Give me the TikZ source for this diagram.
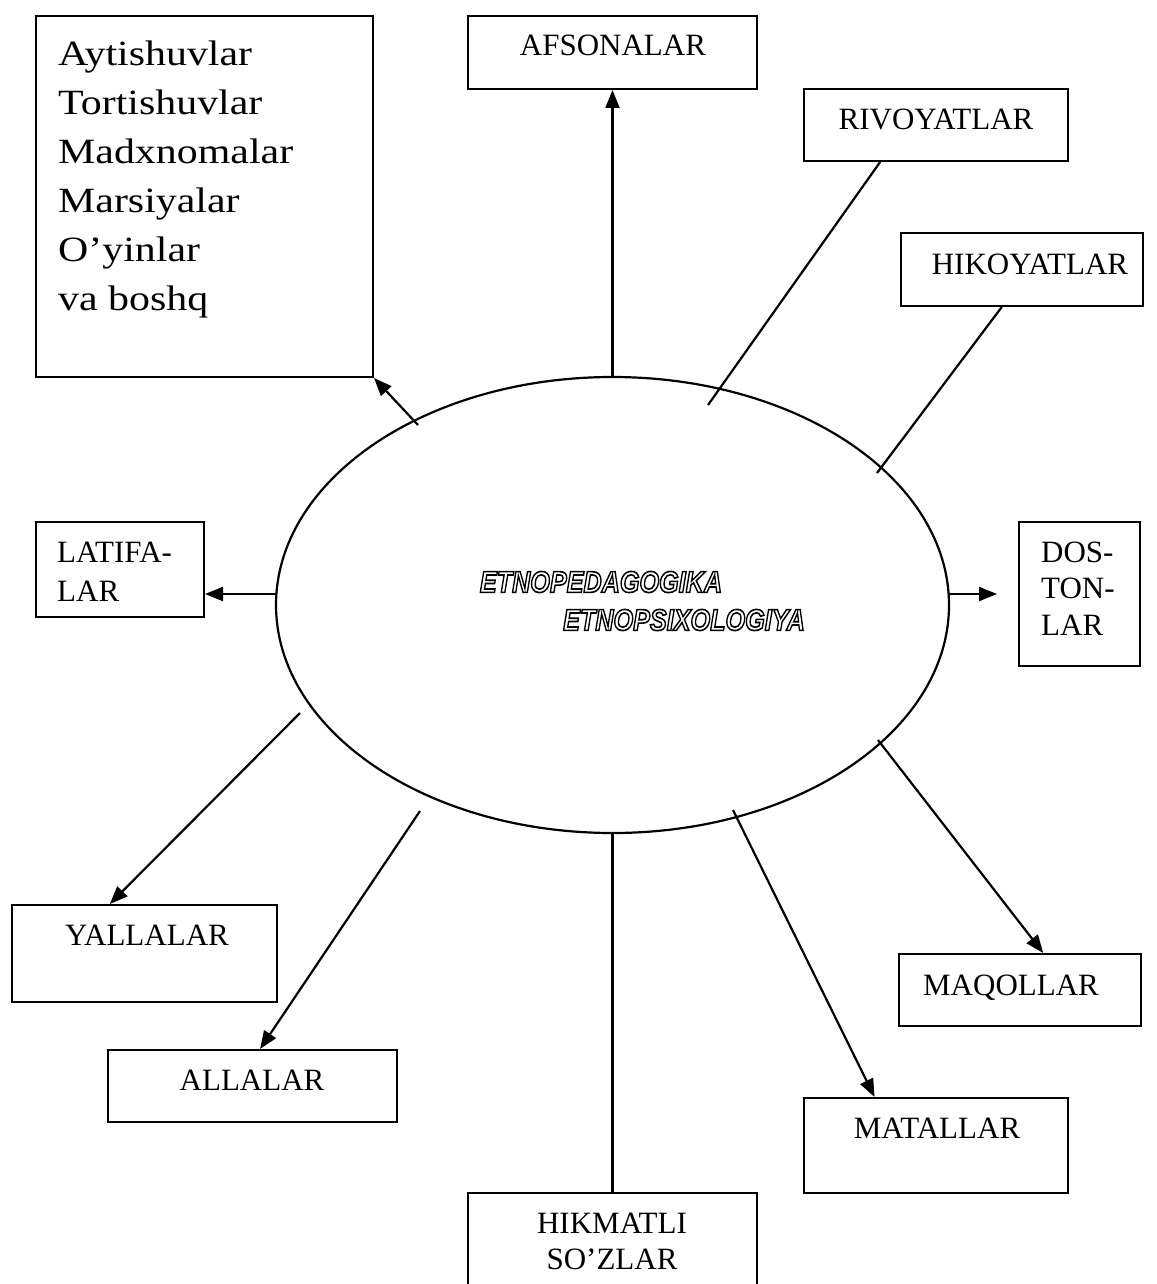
\documentclass[tikz,border=0pt]{standalone}
\usepackage{graphicx}
\usepackage{fontspec}
\setmainfont{Liberation Serif}
\newfontfamily\centerfont{Liberation Sans}
\usetikzlibrary{arrows.meta,shapes.geometric,calc}
\newcommand{\outlinetext}[1]{\special{pdf:literal direct 1 Tr 1.6 w 0 G}#1\special{pdf:literal direct 0 Tr}}
\tikzset{
  box/.style={draw, line width=2pt, inner sep=0pt, rectangle},
  lbl/.style={font=\fontsize{31}{37}\selectfont, inner sep=0pt, anchor=base},
  conn/.style={line width=2.2pt},
  arr/.style={conn, -{Triangle[length=18pt,width=14pt]}},
  ctext/.style={inner sep=0pt, font=\centerfont\bfseries\itshape\fontsize{30}{32}\selectfont},
}
\begin{document}
\begin{tikzpicture}[x=1pt,y=-1pt]
\clip (0,0) rectangle (1156,1284);
\fill[white] (0,0) rectangle (1156,1284);

% central ellipse
\node[ellipse, draw, line width=2.2pt, minimum width=673pt, minimum height=456pt, inner sep=0pt] (ell) at (612.5,605) {};
\node[ctext] (t1) at (601,582) {\scalebox{0.84}[1]{\outlinetext{ETNOPEDAGOGIKA}}};
\node[ctext] (t2) at (684,620) {\scalebox{0.84}[1]{\outlinetext{ETNOPSIXOLOGIYA}}};

% boxes
\node[box, minimum width=337pt, minimum height=361pt] (voy) at (204.5,196.5) {};
\node[inner sep=0pt, anchor=base west] (voy-t) at (58,66) {\fontsize{35.5}{49}\selectfont\scalebox{1.18}[1]{\begin{tabular}[t]{@{}l@{}}Aytishuvlar\\Tortishuvlar\\Madxnomalar\\Marsiyalar\\O’yinlar\\va boshq\end{tabular}}};

\node[box, minimum width=289pt, minimum height=73pt] (afs) at (612.5,52.5) {};
\node[lbl] (afs-t) at (613,56) {AFSONALAR};

\node[box, minimum width=264pt, minimum height=72pt] (riv) at (936,125) {};
\node[lbl] (riv-t) at (936,130) {RIVOYATLAR};

\node[box, minimum width=242pt, minimum height=73pt] (hik) at (1022,269.5) {};
\node[lbl] (hik-t) at (1030,274) {HIKOYATLAR};

\node[box, minimum width=168pt, minimum height=95pt] (lat) at (120,569.5) {};
\node[inner sep=0pt, anchor=base west] (lat-t) at (57,562) {\fontsize{31}{39}\selectfont\begin{tabular}[t]{@{}l@{}}LATIFA-\\LAR\end{tabular}};

\node[box, minimum width=121pt, minimum height=144pt] (dos) at (1079.5,594) {};
\node[inner sep=0pt, anchor=base west] (dos-t) at (1041,562) {\fontsize{31}{36.5}\selectfont\begin{tabular}[t]{@{}l@{}}DOS-\\TON-\\LAR\end{tabular}};

\node[box, minimum width=265pt, minimum height=97pt] (yal) at (144.5,953.5) {};
\node[lbl] (yal-t) at (147,945) {YALLALAR};

\node[box, minimum width=289pt, minimum height=72pt] (all) at (252.5,1086) {};
\node[lbl] (all-t) at (252,1090) {ALLALAR};

\node[box, minimum width=289pt, minimum height=200pt] (hkm) at (612.5,1293) {};
\node[inner sep=0pt, anchor=base] (hkm-t) at (612,1233) {\fontsize{31}{36}\selectfont\begin{tabular}[t]{@{}c@{}}HIKMATLI\\SO’ZLAR\end{tabular}};

\node[box, minimum width=242pt, minimum height=72pt] (maq) at (1020,990) {};
\node[lbl] (maq-t) at (1011,995) {MAQOLLAR};

\node[box, minimum width=264pt, minimum height=95pt] (mat) at (936,1145.5) {};
\node[lbl] (mat-t) at (937,1138) {MATALLAR};

% connector start points
\coordinate (s-voy) at (418,425);
\coordinate (s-riv) at (708,405);
\coordinate (s-hik) at (877,473);
\coordinate (s-lat) at (276,594);
\coordinate (s-dos) at (949,594);
\coordinate (e-dos) at (997,594);
\coordinate (s-yal) at (300,713);
\coordinate (s-all) at (420,811);
\coordinate (s-mat) at (733,810);
\coordinate (s-maq) at (878,740);

% connectors
\draw[arr] (ell.north) -- (afs.south);
\draw[arr] (s-voy) -- (voy.south east);
\draw[conn] (s-riv) -- ($(riv.south west)!0.29!(riv.south east)$);
\draw[conn] (s-hik) -- ($(hik.south west)!0.417!(hik.south east)$);
\draw[arr] (s-lat) -- (s-lat -| lat.east);
\draw[arr] (s-dos) -- (e-dos);
\draw[arr] (s-yal) -- ($(yal.north west)!0.37!(yal.north east)$);
\draw[arr] (s-all) -- ($(all.north west)!0.526!(all.north east)$);
\draw[conn] (ell.south) -- (hkm.north);
\draw[arr] (s-mat) -- ($(mat.north west)!0.269!(mat.north east)$);
\draw[arr] (s-maq) -- ($(maq.north west)!0.595!(maq.north east)$);
\end{tikzpicture}
\end{document}
